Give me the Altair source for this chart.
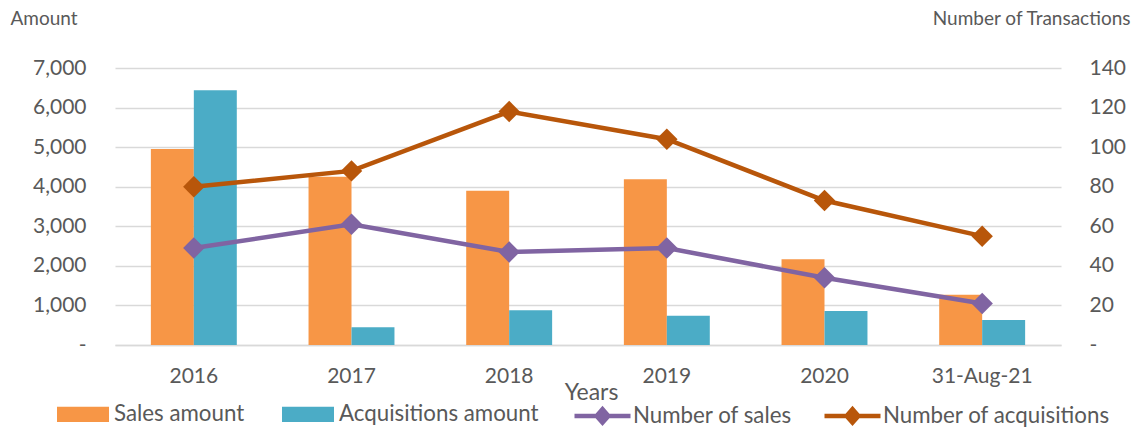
import altair as alt
import pandas as pd

years = ["2016", "2017", "2018", "2019", "2020", "31-Aug-21"]
sales_amount = [4950, 4250, 3900, 4190, 2170, 1270]
acq_amount = [6440, 450, 880, 740, 860, 630]
num_sales = [49, 61, 47, 49, 34, 21]
num_acq = [80, 88, 118, 104, 73, 55]

bar_series = ["Sales amount", "Acquisitions amount"]
line_series = ["Number of sales", "Number of acquisitions"]
bar_colors = ["#F79646", "#4BACC6"]
line_colors = ["#8064A2", "#B8560A"]

bars_df = pd.DataFrame({
    "year": years * 2,
    "series": [bar_series[0]] * len(years) + [bar_series[1]] * len(years),
    "amount": sales_amount + acq_amount,
})
lines_df = pd.DataFrame({
    "year": years * 2,
    "metric": [line_series[0]] * len(years) + [line_series[1]] * len(years),
    "count": num_sales + num_acq,
})

FONT = "Lato"
TXT = "#595959"
GRID = "#D9D9D9"

x_enc = alt.X(
    "year:N", sort=years,
    scale=alt.Scale(paddingInner=0.455, paddingOuter=0.2275),
    axis=alt.Axis(
        title="Years", titleFontSize=23, titleFontWeight="normal", titleColor=TXT,
        titleY=47, titleBaseline="middle", titleX=476,
        labelFontSize=21, labelColor=TXT, labelPadding=20, labelAngle=0,
        ticks=False, tickSize=0, domainColor=GRID, domainWidth=1.5, grid=False,
    ),
)

bars = alt.Chart(bars_df).mark_bar().encode(
    x=x_enc,
    xOffset=alt.XOffset("series:N", sort=bar_series),
    y=alt.Y(
        "amount:Q",
        scale=alt.Scale(domain=[0, 7000], nice=False),
        axis=alt.Axis(
            values=[0, 1000, 2000, 3000, 4000, 5000, 6000, 7000],
            labelExpr="datum.value == 0 ? '-\u00a0\u00a0\u00a0' : format(datum.value, ',')",
            labelFontSize=21, labelColor=TXT, labelPadding=29,
            ticks=False, domain=False, grid=True, gridColor=GRID, gridWidth=1.3,
            title="Amount", titleAngle=0, titleAlign="left", titleBaseline="middle",
            titleX=-105, titleY=-50, titleFontSize=19, titleFontWeight="normal",
            titleColor=TXT,
        ),
    ),
    color=alt.Color(
        "series:N", sort=bar_series,
        scale=alt.Scale(domain=bar_series, range=bar_colors),
        legend=alt.Legend(
            title=None, orient="none", legendX=-58, legendY=320,
            direction="horizontal", columns=2,
            symbolType="M-1,-0.29H1V0.29H-1Z", symbolSize=2704,
            symbolStrokeWidth=0, symbolOpacity=1,
            labelFontSize=22.3, labelColor=TXT, labelOffset=5,
            columnPadding=37, labelLimit=400,
        ),
    ),
)

right_axis = alt.Axis(
    orient="right",
    values=[0, 20, 40, 60, 80, 100, 120, 140],
    labelExpr="datum.value == 0 ? '-' : format(datum.value, ',')",
    labelFontSize=21, labelColor=TXT, labelPadding=28,
    ticks=False, domain=False, grid=False,
    title="Number of Transactions", titleAngle=0, titleAlign="right",
    titleBaseline="middle", titleX=69, titleY=-50, titleFontSize=19,
    titleFontWeight="normal", titleColor=TXT,
)
y_right = alt.Y("count:Q", scale=alt.Scale(domain=[0, 140], nice=False), axis=right_axis)

line_legend = alt.Legend(
    title=None, orient="none", legendX=457, legendY=317,
    direction="horizontal", columns=2,
    symbolType="M-1,0H1M-0.21,0L0,-0.24L0.21,0L0,0.24Z", symbolSize=3136,
    symbolStrokeWidth=4.5, symbolOpacity=1,
    labelFontSize=22.3, labelColor=TXT, labelOffset=0,
    columnPadding=22, labelLimit=400,
)

lines = alt.Chart(lines_df).mark_line(strokeWidth=4.5).encode(
    x=alt.X("year:N", sort=years),
    y=y_right,
    stroke=alt.Stroke(
        "metric:N", sort=line_series,
        scale=alt.Scale(domain=line_series, range=line_colors),
        legend=line_legend,
    ),
)
points = alt.Chart(lines_df).mark_point(shape="diamond", filled=True, size=460, opacity=1).encode(
    x=alt.X("year:N", sort=years),
    y=y_right,
    fill=alt.Fill(
        "metric:N", sort=line_series,
        scale=alt.Scale(domain=line_series, range=line_colors),
        legend=line_legend,
    ),
)

line_layer = alt.layer(lines, points)

chart = alt.layer(bars, line_layer).resolve_scale(y="independent").properties(
    width=946, height=277,
    autosize=alt.AutoSizeParams(type="none"),
    padding={"left": 115, "top": 68, "right": 87, "bottom": 82},
    background="white",
).configure(font=FONT).configure_view(strokeWidth=0, stroke="transparent")

chart.save("out.html", embed_options={"renderer": "svg", "actions": False})
